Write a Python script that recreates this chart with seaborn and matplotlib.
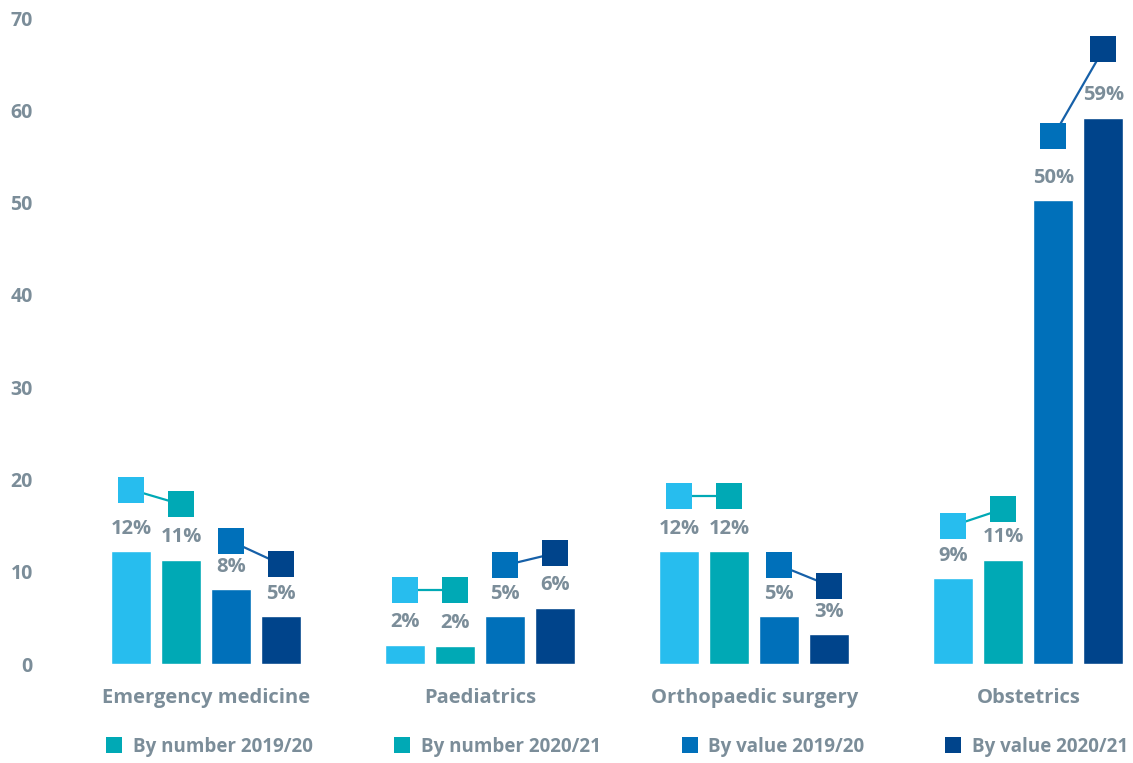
import matplotlib
matplotlib.use("Agg")
import matplotlib.pyplot as plt
from matplotlib.lines import Line2D
import seaborn as sns
import pandas as pd

categories = ["Emergency medicine", "Paediatrics", "Orthopaedic surgery", "Obstetrics"]
series = ["By number 2019/20", "By number 2020/21", "By value 2019/20", "By value 2020/21"]
bar_values = {
    "By number 2019/20": [12.2, 2.1, 12.2, 9.3],
    "By number 2020/21": [11.3, 2.0, 12.2, 11.3],
    "By value 2019/20": [8.1, 5.2, 5.2, 50.3],
    "By value 2020/21": [5.2, 6.1, 3.2, 59.2],
}
bar_labels = {
    "By number 2019/20": ["12%", "2%", "12%", "9%"],
    "By number 2020/21": ["11%", "2%", "12%", "11%"],
    "By value 2019/20": ["8%", "5%", "5%", "50%"],
    "By value 2020/21": ["5%", "6%", "3%", "59%"],
}
marker_values = {
    "By number 2019/20": [18.9, 8.0, 18.2, 15.0],
    "By number 2020/21": [17.3, 8.0, 18.2, 16.8],
    "By value 2019/20": [13.3, 10.7, 10.7, 57.2],
    "By value 2020/21": [10.8, 12.0, 8.5, 66.6],
}
y_ticks = [0, 10, 20, 30, 40, 50, 60, 70]

colors = ["#27BDEE", "#00A9B5", "#0070BA", "#00448B"]
legend_colors = ["#00A9B5", "#00A9B5", "#0070BA", "#00448B"]
line_colors = ["#00A9B5", "#1660A8"]
grey = "#7B8D99"
fs = 14.5

sns.set_theme(style="white")
plt.rcParams["font.family"] = ["Open Sans", "DejaVu Sans"]
plt.rcParams["font.weight"] = "bold"

rows = []
for s in series:
    for c, v in zip(categories, bar_values[s]):
        rows.append({"category": c, "series": s, "value": v})
df = pd.DataFrame(rows)

fig = plt.figure(figsize=(11.33, 7.63), dpi=100)
ax = fig.add_axes([69 / 1133, 1 - 664 / 763, 1058 / 1133, 646 / 763])

sns.barplot(data=df, x="category", y="value", hue="series", order=categories,
            hue_order=series, palette=colors, width=0.73, gap=0.2,
            saturation=1, ax=ax, legend=False)

ax.set_xlim(-0.5, 3.36)
ax.set_ylim(0, 70)
ax.set_yticks(y_ticks)
ax.set_yticklabels([str(t) for t in y_ticks])
ax.set_xlabel("")
ax.set_ylabel("")
for sp in ax.spines.values():
    sp.set_visible(False)
ax.tick_params(axis="y", length=0, pad=26, labelsize=14, labelcolor=grey)
ax.tick_params(axis="x", length=0, pad=17, labelsize=fs, labelcolor=grey)
for lab in ax.get_xticklabels() + ax.get_yticklabels():
    lab.set_fontweight("bold")

# value labels
for i, s in enumerate(series):
    cont = ax.containers[i]
    for j, bar in enumerate(cont):
        xc = bar.get_x() + bar.get_width() / 2
        h = bar.get_height()
        ax.annotate(bar_labels[s][j], (xc, h), xytext=(0, 16), textcoords="offset points",
                    ha="center", va="center", fontsize=fs, fontweight="bold", color=grey)

# square markers with connecting lines
xs = {}
for i, s in enumerate(series):
    xs[s] = [b.get_x() + b.get_width() / 2 for b in ax.containers[i]]
for j in range(len(categories)):
    for k, (a, b) in enumerate([(series[0], series[1]), (series[2], series[3])]):
        ax.plot([xs[a][j], xs[b][j]], [marker_values[a][j], marker_values[b][j]],
                color=line_colors[k], lw=1.6, zorder=3)
for i, s in enumerate(series):
    ax.scatter(xs[s], marker_values[s], marker="s", s=330, color=colors[i],
               linewidths=0, zorder=4)

handles = [Line2D([], [], marker="s", linestyle="none", markersize=11.5,
                  markerfacecolor=c, markeredgewidth=0) for c in legend_colors]
leg = fig.legend(handles, series, loc="center", bbox_to_anchor=(617 / 1133, 1 - 747 / 763),
                 ncol=4, frameon=False, fontsize=13.5, columnspacing=4.3,
                 handletextpad=0.55, handlelength=0.9)
for t in leg.get_texts():
    t.set_color(grey)
    t.set_fontweight("bold")

fig.savefig("out.png", dpi=100)
